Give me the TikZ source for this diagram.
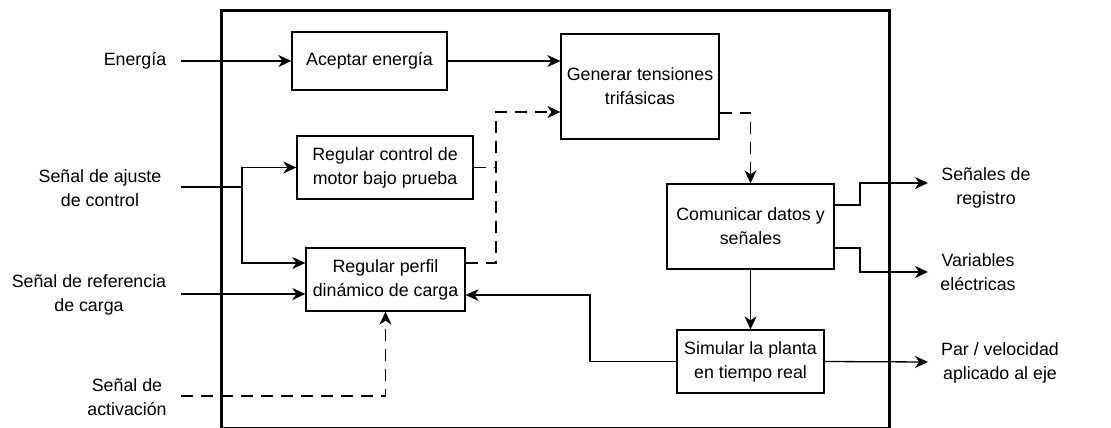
\documentclass[tikz,border=0pt]{standalone}
\usepackage{fontspec}
\setmainfont{Liberation Sans}
\usetikzlibrary{arrows.meta}
\begin{document}
\begin{tikzpicture}[x=1pt,y=-1pt,
  txt/.style={font=\fontsize{17.8}{24}\selectfont, align=center, inner sep=0pt},
  block/.style={draw, line width=1.3pt, txt},
  wire/.style={line width=1.3pt},
  arr/.style={wire, -{Stealth[length=13pt,width=12pt,inset=4pt]}},
  dsh/.style={dash pattern=on 12pt off 8pt}]
\useasboundingbox (0,0) rectangle (1111,428);
% system boundary
\draw[line width=3pt] (221,11) rectangle (889,428.6);

% functional blocks
\node[block, minimum width=155pt, minimum height=58pt] (acept) at (369.5,61) {Aceptar energía};
\node[block, minimum width=176pt, minimum height=63pt] (regctl) at (385,167.5) {Regular control de\\motor bajo prueba};
\node[block, minimum width=158pt, minimum height=105pt] (gen) at (640,86.5) {Generar tensiones\\trifásicas};
\node[block, minimum width=167pt, minimum height=85pt] (com) at (750.5,226.5) {Comunicar datos y\\señales};
\node[block, minimum width=159pt, minimum height=63pt] (regperf) at (385.5,279.5) {Regular perfil\\dinámico de carga};
\node[block, minimum width=147pt, minimum height=63pt] (sim) at (750.5,361.5) {Simular la planta\\en tiempo real};

% external inputs and outputs
\node[txt] (tEn) at (135,61) {Energía};
\node[txt] (tAj) at (100,188) {Señal de ajuste\\de control};
\node[txt] (tRef) at (89,295) {Señal de referencia\\de carga};
\node[txt] (tAct) at (127,397) {Señal de\\activación};
\node[txt] (tReg) at (986,188) {Señales de\\registro};
\node[txt] (tVar) at (978,272) {Variables\\eléctricas};
\node[txt] (tPar) at (1000,363) {Par / velocidad\\aplicado al eje};

% connector end points and routing columns
\coordinate (inEn) at (181,61);
\coordinate (inAj) at (181,187);
\coordinate (jAj) at (242,187);
\coordinate (inRef) at (181,294);
\coordinate (inAct) at (181,396);
\coordinate (xd) at (496,0);
\coordinate (xs) at (590,0);
\coordinate (xo) at (860,0);
\coordinate (oReg) at (928,183);
\coordinate (oVar) at (928,272);
\coordinate (oPar) at (928,362);
\coordinate (gin2) at ([yshift=-25.5pt]gen.west);
\coordinate (pin) at ([yshift=-15.5pt]regperf.east);

% connectors
\draw[arr] (inEn) -- (acept.west);
\draw[arr] (acept.east) -- ([yshift=25.5pt]gen.west);
\draw[wire,dsh] (regctl.east) -- (regctl.east -| xd);
\draw[arr,dsh] ([yshift=16.5pt]regperf.east) -| (xd |- gin2) -- (gin2);
\draw[arr,dsh] ([yshift=-26.5pt]gen.east) -| (com.north);
\draw[arr] (inAj) -- (jAj) |- (regctl.west);
\draw[arr] (jAj) |- ([yshift=16.5pt]regperf.west);
\draw[arr] (inRef) -- ([yshift=-14.5pt]regperf.west);
\draw[arr,dsh] (inAct) -| (regperf.south);
\draw[arr] (sim.west) -| (xs |- pin) -- (pin);
\draw[arr] (com.south) -- (sim.north);
\draw[arr] ([yshift=21.5pt]com.east) -| (xo |- oReg) -- (oReg);
\draw[arr] ([yshift=-21.5pt]com.east) -| (xo |- oVar) -- (oVar);
\draw[arr] (sim.east) -- (oPar);
\end{tikzpicture}
\end{document}
